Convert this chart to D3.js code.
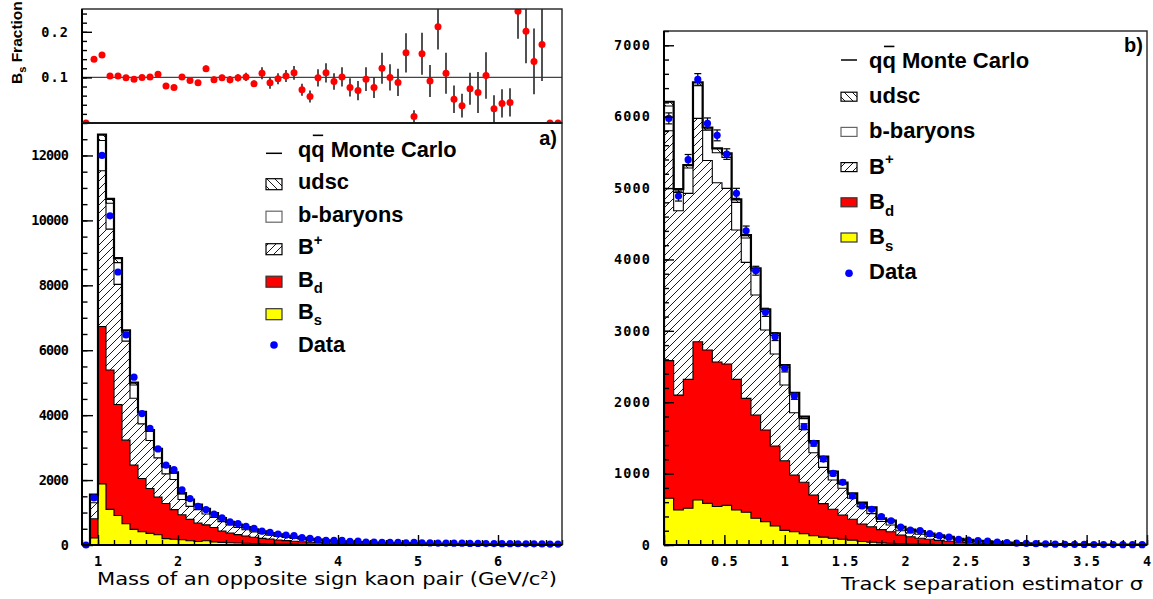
<!DOCTYPE html>
<html><head><meta charset="utf-8">
<script src="https://cdnjs.cloudflare.com/ajax/libs/d3/7.8.5/d3.min.js"></script>
<style>html,body{margin:0;padding:0;background:#fff;} svg{display:block;}</style>
</head><body>
<script>
// ================= DATA =================
// (a) mass of opposite-sign kaon pair, bins of 0.1 GeV/c^2 from 0.8 to 6.8
const massBinStart = 0.8, massBinWidth = 0.1;
const massBs = [0,217,1883,1098,910,654,480,410,358,317,197,175,162,130,110,132,94,82,68,62,56,41,46,33,32,29,28,16,11,17,16,12,12,8,7,8,6,8,6,5,8,1,7,4,9,4,2,1,2,2,3,1,1,1,5,4,3,3,0,0];
const massBd = [0,593,4847,4292,3420,2576,1980,1640,1382,1163,1083,915,768,660,570,488,446,348,302,258,219,199,159,147,123,106,87,84,74,58,49,45,38,36,32,27,25,20,19,18,13,18,10,12,6,10,11,11,9,8,6,8,7,7,2,3,3,3,5,5];
const massBplus = [0,490,4800,4340,3700,3050,2060,1680,1480,1205,910,930,470,400,410,335,310,290,250,220,195,165,145,125,110,95,85,75,65,55,50,43,38,34,31,27,25,22,20,18,17,16,15,14,13,12,11,10,10,10,9,8,8,7,7,6,6,6,6,5];
const massBbaryon = [0,170,930,800,670,260,410,340,280,245,210,190,170,190,130,135,115,90,80,75,70,65,60,55,50,45,40,35,35,30,25,25,22,20,18,18,16,16,15,14,13,12,12,11,10,10,9,9,8,7,7,7,6,6,6,6,6,5,5,5];
const massUdsc = [0,80,180,130,140,70,70,30,40,30,30,30,30,20,25,20,20,20,15,15,10,10,10,10,10,10,10,8,7,7,6,6,6,5,5,4,4,4,4,4,4,4,4,4,4,3,3,3,3,3,3,2,2,2,2,2,2,2,2,2];
const massData = [0,1450,12000,10140,8410,6470,5170,4050,3590,2960,2460,2320,1700,1430,1190,1090,950,833,710,657,575,513,430,389,338,307,286,225,204,163,142,142,142,111,121,90,90,80,80,80,70,80,70,65,60,60,55,55,50,50,45,45,40,40,38,35,35,32,30,30];
// Bs fraction per mass bin
const fracBs = [0,0.140,0.149,0.103,0.103,0.099,0.096,0.100,0.101,0.107,0.081,0.078,0.101,0.093,0.088,0.119,0.095,0.099,0.095,0.099,0.101,0.086,0.109,0.088,0.097,0.103,0.110,0.073,0.058,0.099,0.110,0.091,0.101,0.078,0.071,0.096,0.078,0.120,0.100,0.089,0.154,0.014,0.152,0.092,0.211,0.109,0.052,0.038,0.075,0.067,0.104,0.031,0.043,0.045,0.245,0.201,0.135,0.172,0,0];
const fracErr = [0,0.005,0.004,0.003,0.003,0.003,0.004,0.004,0.004,0.005,0.005,0.005,0.006,0.006,0.006,0.007,0.007,0.007,0.008,0.008,0.009,0.007,0.013,0.013,0.012,0.013,0.015,0.013,0.013,0.019,0.021,0.018,0.021,0.020,0.021,0.026,0.023,0.034,0.029,0.030,0.043,0.014,0.046,0.035,0.050,0.045,0.030,0.026,0.035,0.045,0.051,0.030,0.031,0.031,0.060,0.070,0.072,0.080,0,0];
// (b) track separation estimator, bins of 0.08 from 0 to 4
const sepBinStart = 0, sepBinWidth = 0.08;
const sepBs = [654,490,514,630,583,540,555,490,458,374,327,266,205,185,160,130,110,95,80,68,50,38,30,24,19,15,12,9,7,6,5,4,3,2,2,2,1,1,1,1,1,1,0,0,0,0,0,0,0,0];
const sepBd = [1928,1610,1806,2218,2148,2023,1980,1830,1596,1447,1284,1121,976,795,718,570,470,405,340,292,245,217,185,161,121,100,83,71,58,46,37,30,25,20,16,12,10,8,6,5,4,3,3,3,2,2,2,1,1,1];
const sepBplus = [3221,2582,2605,3128,2655,2511,2461,2092,1905,1680,1400,1288,1060,873,742,593,508,410,374,294,242,185,115,95,60,55,55,45,40,36,24,21,17,16,13,12,10,9,8,7,6,5,5,4,4,3,3,3,3,2];
const sepBbaryon = [347,258,355,457,424,421,434,388,341,339,259,260,249,252,150,137,127,95,61,54,41,70,30,50,45,35,36,27,23,21,14,13,10,9,7,6,5,4,4,3,2,2,1,1,1,1,0,0,0,0];
const sepUdsc = [59,46,42,47,38,60,55,41,42,35,31,30,31,28,27,27,22,22,18,16,15,18,14,11,10,10,9,8,7,6,5,4,3,3,2,2,2,2,1,1,1,1,1,1,1,1,1,1,1,1];
const sepData = [5976,4888,5397,6522,5905,5738,5476,4926,4402,3842,3259,2918,2474,2087,1657,1424,1204,1003,878,686,546,500,397,340,250,210,200,160,130,110,80,70,60,55,40,35,25,23,18,15,12,10,9,8,7,6,6,5,5,4];
const sepErr = [77,70,73,81,77,76,74,70,66,62,57,54,50,46,41,38,35,32,30,26,23,22,20,18,16,14,14,13,11,10,9,8,8,7,6,6,5,5,4,4,3,3,3,3,3,2,2,2,2,2];
// tick labels
const massXTicks = [1,2,3,4,5,6];
const massYTicks = [0,2000,4000,6000,8000,10000,12000];
const fracYTicks = [0.1,0.2];
const sepXTicks = [0,0.5,1,1.5,2,2.5,3,3.5,4];
const sepYTicks = [0,1000,2000,3000,4000,5000,6000,7000];
// legend
const legendNames = ["qq Monte Carlo","udsc","b-baryons","B","B","B","Data"];
const legendScripts = ["","","","+","d","s",""];

// ================= DRAWING =================
const svg = d3.select("body").append("svg").attr("width",1153).attr("height",599);
const defs = svg.append("defs");
function hatch(id, d){
  const p = defs.append("pattern").attr("id",id).attr("patternUnits","userSpaceOnUse").attr("width",8).attr("height",8);
  p.append("rect").attr("width",8).attr("height",8).attr("fill","#fff");
  p.append("path").attr("d",d).attr("stroke","#000").attr("stroke-width",0.9).attr("fill","none");
}
hatch("hatchB","M-2,2L2,-2M0,8L8,0M6,10L10,6");
hatch("hatchU","M-2,6L2,10M0,0L8,8M6,-2L10,2");
function clip(id,x,y,w,h){ defs.append("clipPath").attr("id",id).append("rect").attr("x",x).attr("y",y).attr("width",w).attr("height",h); }

const L = {x0:82, x1:562, t0:9, t1:123, y0:123, y1:545};
const R = {x0:664, x1:1147, y0:31, y1:545};
clip("clipTop", L.x0, L.t0, L.x1-L.x0, L.t1-L.t0);
clip("clipL", L.x0, L.y0, L.x1-L.x0, L.y1-L.y0);
clip("clipR", R.x0, R.y0, R.x1-R.x0, R.y1-R.y0);

const xMass = d3.scaleLinear().domain([0.8,6.8]).range([L.x0,L.x1]);
const yMass = d3.scaleLinear().domain([0,13000]).range([L.y1,L.y0]);
const yFrac = d3.scaleLinear().domain([0,0.25]).range([L.t1,L.t0]);
const xSep = d3.scaleLinear().domain([0,4]).range([R.x0,R.x1]);
const ySep = d3.scaleLinear().domain([0,7200]).range([R.y1,R.y0]);

const comps = [
  {key:"bs", fill:"#ffff00"},
  {key:"bd", fill:"#ff0000"},
  {key:"bp", fill:"url(#hatchB)"},
  {key:"bb", fill:"#ffffff"},
  {key:"ud", fill:"url(#hatchU)"}
];

function drawHist(x, y, start, width, series, data, err, clipId){
  const n = data.length;
  const rows = d3.range(n).map(i => ({bs:series[0][i], bd:series[1][i], bp:series[2][i], bb:series[3][i], ud:series[4][i]}));
  const st = d3.stack().keys(comps.map(c=>c.key))(rows);
  const gg = svg.append("g").attr("clip-path",`url(#${clipId})`);
  const stepPts = s => s.flatMap((d,i)=>[[x(start+i*width), d[0], d[1]],[x(start+(i+1)*width), d[0], d[1]]]);
  const area = d3.area().x(p=>p[0]).y0(p=>y(p[1])).y1(p=>y(p[2]));
  st.forEach((s,k)=>gg.append("path").attr("d",area(stepPts(s))).attr("fill",comps[k].fill).attr("stroke","none"));
  const line = d3.line().x(p=>p[0]).y(p=>y(p[2]));
  st.forEach((s,k)=>{
    const pts = stepPts(s);
    const full = [[pts[0][0],0,0], ...pts, [pts[pts.length-1][0],0,0]];
    gg.append("path").attr("d",line(full)).attr("fill","none").attr("stroke","#000")
      .attr("stroke-width", k===st.length-1 ? 2.2 : 1.1);
  });
  const dg = svg.append("g");
  if (err) {
    data.forEach((v,i)=>{
      const cx = x(start+(i+0.5)*width);
      dg.append("line").attr("x1",cx).attr("x2",cx).attr("y1",y(v-err[i])).attr("y2",y(v+err[i])).attr("stroke","#000").attr("stroke-width",1.2);
      [v-err[i], v+err[i]].forEach(e=>dg.append("line").attr("x1",cx-3.5).attr("x2",cx+3.5).attr("y1",y(e)).attr("y2",y(e)).attr("stroke","#000").attr("stroke-width",1.2));
    });
  }
  dg.selectAll("circle").data(data).join("circle")
    .attr("cx",(v,i)=>x(start+(i+0.5)*width)).attr("cy",v=>y(v)).attr("r",3.6).attr("fill","#0000ff");
}

drawHist(xMass, yMass, massBinStart, massBinWidth, [massBs,massBd,massBplus,massBbaryon,massUdsc], massData, null, "clipL");
drawHist(xSep, ySep, sepBinStart, sepBinWidth, [sepBs,sepBd,sepBplus,sepBbaryon,sepUdsc], sepData, sepErr, "clipR");

// fraction panel
const fg = svg.append("g").attr("clip-path","url(#clipTop)");
fg.append("line").attr("x1",L.x0).attr("x2",L.x1).attr("y1",yFrac(0.1)).attr("y2",yFrac(0.1)).attr("stroke","#444").attr("stroke-width",1.3);
fracBs.forEach((v,i)=>{
  const cx = xMass(massBinStart+(i+0.5)*massBinWidth);
  if (fracErr[i]>0) fg.append("line").attr("x1",cx).attr("x2",cx).attr("y1",yFrac(v-fracErr[i])).attr("y2",yFrac(v+fracErr[i])).attr("stroke","#333").attr("stroke-width",1.7);
});
fg.selectAll("circle").data(fracBs).join("circle")
  .attr("cx",(v,i)=>xMass(massBinStart+(i+0.5)*massBinWidth)).attr("cy",v=>yFrac(v)).attr("r",3.5).attr("fill","#ff0000");

// axes
function styleAxis(sel, ls){
  sel.select(".domain").remove();
  sel.selectAll(".tick line").attr("stroke","#000").attr("stroke-width",1.4);
  sel.selectAll("text").attr("font-family","'DejaVu Sans Mono', monospace").attr("font-weight","bold")
    .attr("font-size",13.5).attr("letter-spacing",ls).attr("fill","#000");
}
function yAxis(y, x0, majors, minors, fmt, pad, ls, big){
  svg.append("g").attr("transform",`translate(${x0},0)`).call(d3.axisLeft(y).tickValues(minors).tickSize(-big/2).tickFormat("")).call(s=>styleAxis(s,ls));
  svg.append("g").attr("transform",`translate(${x0},0)`).call(d3.axisLeft(y).tickValues(majors).tickSize(-big).tickPadding(pad).tickFormat(fmt)).call(s=>styleAxis(s,ls));
}
function xAxis(x, y0, majors, minors, fmt){
  svg.append("g").attr("transform",`translate(0,${y0})`).call(d3.axisBottom(x).tickValues(minors).tickSize(-5).tickFormat("")).call(s=>styleAxis(s,"1.1px"));
  svg.append("g").attr("transform",`translate(0,${y0})`).call(d3.axisBottom(x).tickValues(majors).tickSize(-10).tickPadding(11).tickFormat(fmt)).call(s=>styleAxis(s,"1.1px"));
}
yAxis(yMass, L.x0, massYTicks, d3.range(0,13001,500), d=>String(d), 14, "-0.8px", 11);
yAxis(yFrac, L.x0, fracYTicks, d3.range(0.02,0.25,0.02), d=>d.toFixed(1), 13, "1.1px", 10);
yAxis(ySep, R.x0, sepYTicks, d3.range(0,7201,200), d=>String(d), 13, "1.1px", 10);
xAxis(xMass, L.y1, massXTicks, d3.range(0.8,6.81,0.2), d=>String(d));
xAxis(xSep, R.y1, sepXTicks, d3.range(0,4.01,0.1), d=>String(d));

// frames
function frame(x0,y0,x1,y1){
  svg.append("rect").attr("x",x0).attr("y",y0).attr("width",x1-x0).attr("height",y1-y0).attr("fill","none").attr("stroke","#222").attr("stroke-width",1.4);
  svg.append("line").attr("x1",x0).attr("x2",x0).attr("y1",y0).attr("y2",y1).attr("stroke","#000").attr("stroke-width",2);
  svg.append("line").attr("x1",x0).attr("x2",x1).attr("y1",y1).attr("y2",y1).attr("stroke","#000").attr("stroke-width",2);
}
frame(L.x0,L.t0,L.x1,L.t1);
frame(L.x0,L.y0,L.x1,L.y1);
frame(R.x0,R.y0,R.x1,R.y1);

// legends
function legend(symX0, symX1, textX, b0, step, fs, boxTop, boxH, lineOff, dotOff, subDy, supDy){
  const fills = [null,"url(#hatchU)","#ffffff","url(#hatchB)","#ff0000","#ffff00",null];
  const strokes = [null,"#000","#666","#000","#333","#333",null];
  legendNames.forEach((name,k)=>{
    const b = b0 + k*step;
    if (k===0) {
      svg.append("line").attr("x1",symX0).attr("x2",symX1).attr("y1",b+lineOff).attr("y2",b+lineOff).attr("stroke","#000").attr("stroke-width",1.5);
    } else if (k===6) {
      svg.append("circle").attr("cx",(symX0+symX1)/2).attr("cy",b+dotOff).attr("r",3.8).attr("fill","#0000ff");
    } else {
      svg.append("rect").attr("x",symX0).attr("y",b+boxTop).attr("width",symX1-symX0).attr("height",boxH)
        .attr("fill",fills[k]).attr("stroke",strokes[k]).attr("stroke-width",1.2);
    }
    const t = svg.append("text").attr("x",textX).attr("y",b).attr("font-family","'Liberation Sans', Arial, sans-serif")
      .attr("font-weight","bold").attr("font-size",fs).attr("fill","#000");
    t.append("tspan").text(name);
    const s = legendScripts[k];
    if (s==="+") t.append("tspan").attr("font-size",fs*0.68).attr("dy",supDy).text(s);
    else if (s) t.append("tspan").attr("font-size",fs*0.68).attr("dy",subDy).text(s);
    if (k===0) {
      const node = t.node();
      const a = node.getStartPositionOfChar(1).x, e = node.getEndPositionOfChar(1).x;
      svg.append("line").attr("x1",a+1.5).attr("x2",e-1.5).attr("y1",b-fs*0.98).attr("y2",b-fs*0.98).attr("stroke","#000").attr("stroke-width",1.6);
    }
  });
}
legend(266, 282, 298, 156.7, 32.5, 21.8, -10.5, 11, -3.4, -6.7, 6, -9);
legend(841, 857, 869, 68, 35.2, 22, -11, 9, -8, -6, 7, -10);

// panel labels
svg.append("text").attr("x",557).attr("y",145).attr("text-anchor","end").attr("font-family","'Liberation Sans', Arial, sans-serif").attr("font-weight","bold").attr("font-size",20).text("a)");
svg.append("text").attr("x",1143).attr("y",52).attr("text-anchor","end").attr("font-family","'Liberation Sans', Arial, sans-serif").attr("font-weight","bold").attr("font-size",20).text("b)");

// axis titles
svg.append("text").attr("x",97).attr("y",585).attr("font-family","'DejaVu Sans', sans-serif").attr("font-size",18.5)
  .attr("textLength",460).attr("lengthAdjust","spacingAndGlyphs").text("Mass of an opposite sign kaon pair (GeV/c²)");
svg.append("text").attr("x",841).attr("y",590).attr("font-family","'DejaVu Sans', sans-serif").attr("font-size",18.5)
  .attr("textLength",302).attr("lengthAdjust","spacingAndGlyphs").text("Track separation estimator σ");
const yt = svg.append("text").attr("transform","translate(22,84) rotate(-90)").attr("font-family","'Liberation Sans', Arial, sans-serif")
  .attr("font-weight","bold").attr("font-size",15.5);
yt.append("tspan").text("B");
yt.append("tspan").attr("font-size",11).attr("dy",3.5).text("s");
yt.append("tspan").attr("dy",-3.5).text(" Fraction");
</script>
</body></html>
